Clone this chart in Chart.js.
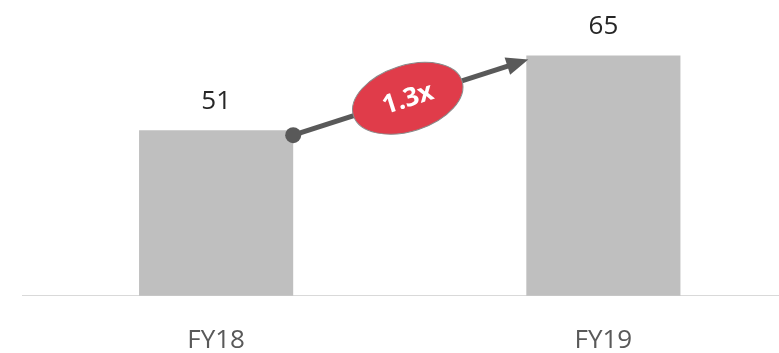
<!DOCTYPE html>
<html>
<head>
<meta charset="utf-8">
<script src="https://cdn.jsdelivr.net/npm/chart.js@4"></script>
<style>
  html, body { margin: 0; padding: 0; background: #fff; overflow: hidden; }
  canvas { display: block; }
</style>
</head>
<body>
<canvas id="growth" width="797" height="353"></canvas>
<script>
const years = ["FY18", "FY19"];
const values = [51, 65];
const multiple = "1.3x";

const FONT = "'Open Sans', 'Noto Sans', sans-serif";

// value labels above the bars
const valueLabels = {
  id: "valueLabels",
  afterDatasetsDraw(chart) {
    const ctx = chart.ctx;
    const meta = chart.getDatasetMeta(0);
    ctx.save();
    ctx.font = "26px " + FONT;
    ctx.fillStyle = "#262626";
    ctx.textAlign = "center";
    ctx.textBaseline = "alphabetic";
    meta.data.forEach((bar, i) => {
      ctx.fillText(String(values[i]), bar.x, bar.y - 21);
    });
    ctx.restore();
  },
};

// growth arrow with the red ellipse badge
const growthArrow = {
  id: "growthArrow",
  afterDatasetsDraw(chart) {
    const ctx = chart.ctx;
    const meta = chart.getDatasetMeta(0);
    const a = meta.data[0], b = meta.data[1];
    const x0 = a.x + a.width / 2, y0 = a.y + 5;
    const x1 = b.x - b.width / 2 + 2, y1 = b.y + 4;
    const ang = Math.atan2(y1 - y0, x1 - x0);
    const head = 20;

    ctx.save();
    ctx.strokeStyle = "#595959";
    ctx.fillStyle = "#595959";
    ctx.lineWidth = 5;
    ctx.beginPath();
    ctx.moveTo(x0, y0);
    ctx.lineTo(x1 - head * Math.cos(ang), y1 - head * Math.sin(ang));
    ctx.stroke();

    // start dot
    ctx.beginPath();
    ctx.arc(x0, y0, 8, 0, Math.PI * 2);
    ctx.fill();

    // arrow head
    ctx.translate(x1, y1);
    ctx.rotate(ang);
    ctx.beginPath();
    ctx.moveTo(0, 0);
    ctx.lineTo(-head - 2, -9);
    ctx.lineTo(-head - 2, 9);
    ctx.closePath();
    ctx.fill();
    ctx.restore();

    // ellipse badge
    const cx = (x0 + x1) / 2 - 3, cy = (y0 + y1) / 2 + 1;
    ctx.save();
    ctx.translate(cx, cy);
    ctx.rotate(ang);
    ctx.beginPath();
    ctx.ellipse(0, 0, 57, 33, 0, 0, Math.PI * 2);
    ctx.fillStyle = "#E03C4A";
    ctx.fill();
    ctx.lineWidth = 1;
    ctx.strokeStyle = "#8a8a8a";
    ctx.stroke();
    ctx.fillStyle = "#ffffff";
    ctx.font = "bold 26px " + FONT;
    ctx.textAlign = "center";
    ctx.textBaseline = "middle";
    ctx.fillText(multiple, 0, 1);
    ctx.restore();
  },
};

new Chart(document.getElementById("growth"), {
  type: "bar",
  data: {
    labels: years,
    datasets: [
      {
        data: values,
        backgroundColor: "#bfbfbf",
        barPercentage: 0.398,
        categoryPercentage: 1,
      },
    ],
  },
  options: {
    responsive: false,
    animation: false,
    layout: { padding: { top: 2, left: 22.5, right: 0, bottom: -3 } },
    plugins: { legend: { display: false }, tooltip: { enabled: false } },
    scales: {
      x: {
        // grid hidden; tickLength only reserves room above the labels
        grid: { display: false, drawTicks: true, tickLength: 29 },
        border: { display: true, color: "#d9d9d9", width: 1 },
        ticks: { color: "#595959", font: { family: FONT, size: 26 }, padding: 0 },
      },
      y: { display: false, min: 20, max: 75 },
    },
  },
  plugins: [valueLabels, growthArrow],
});
</script>
</body>
</html>
